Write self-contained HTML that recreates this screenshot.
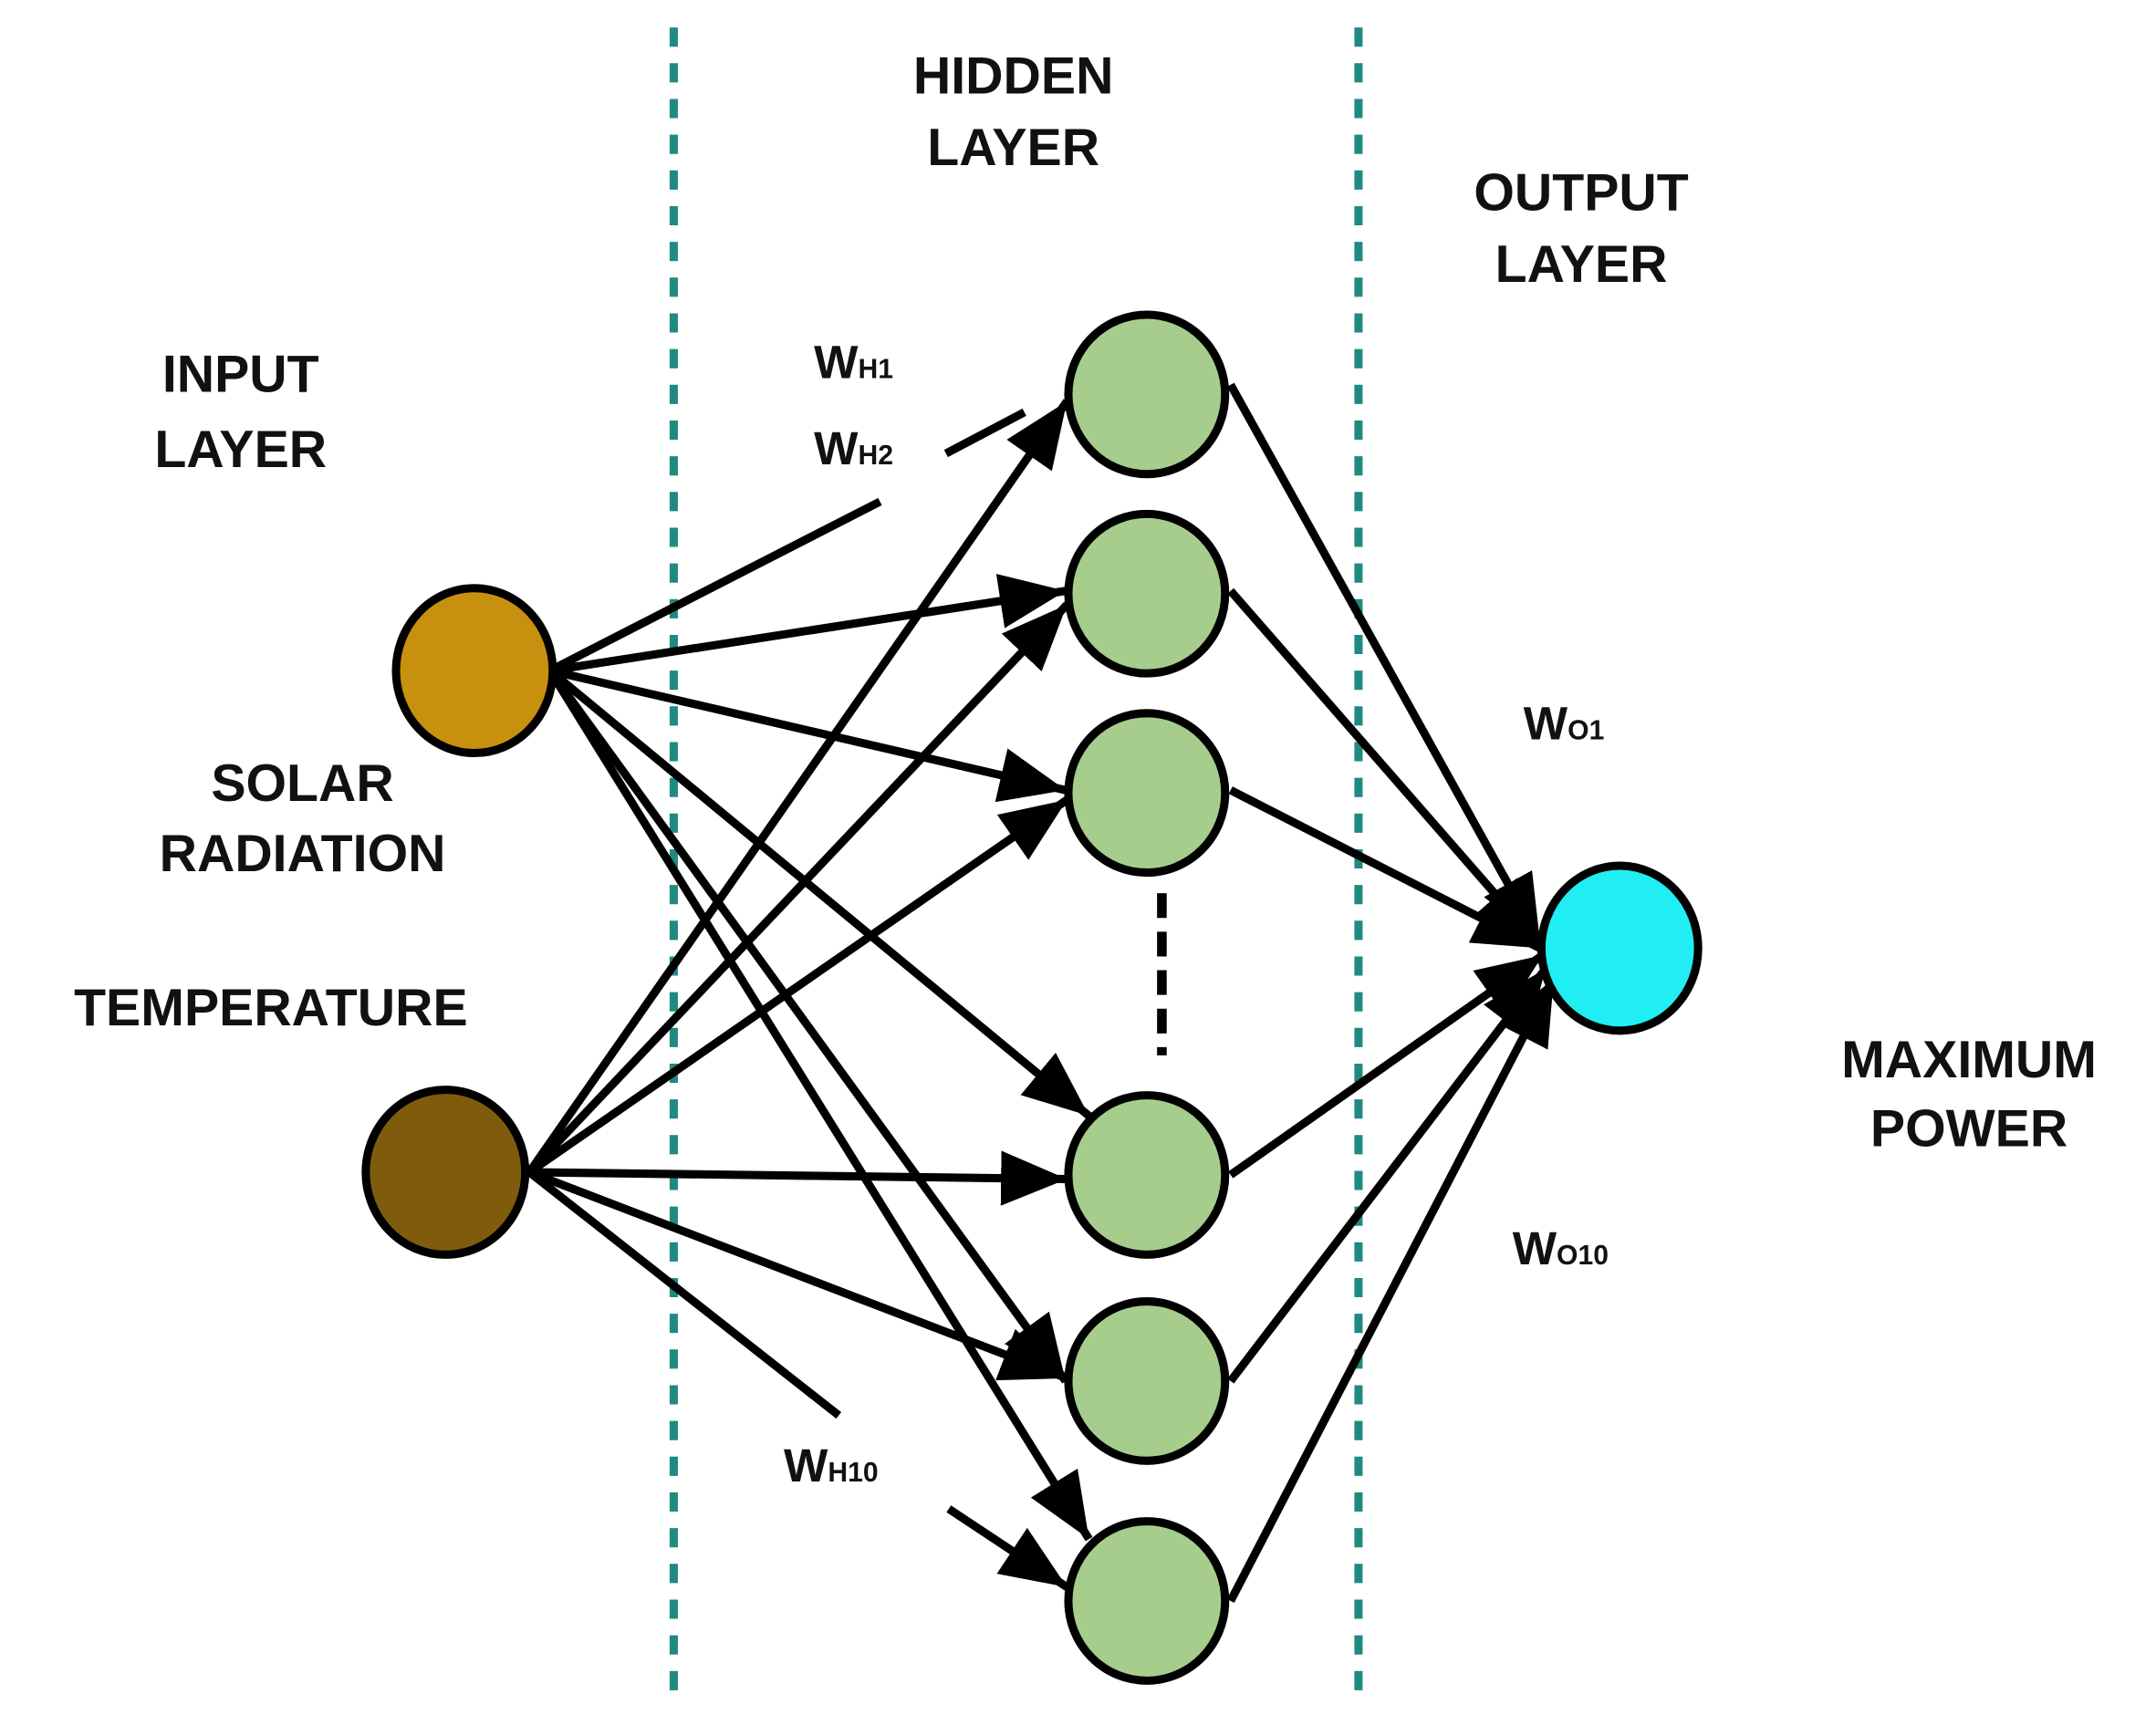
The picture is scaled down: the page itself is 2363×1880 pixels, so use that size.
<!DOCTYPE html>
<html><head><style>
html,body{margin:0;padding:0;background:#fff;}
svg{display:block;}
text{font-family:"Liberation Sans",sans-serif;font-weight:bold;fill:#111;}
</style></head><body>
<svg width="2363" height="1880" viewBox="0 0 1568 1248" preserveAspectRatio="none" xmlns="http://www.w3.org/2000/svg">
<defs>
<marker id="a" viewBox="0 0 10 10" refX="10" refY="5" markerWidth="9" markerHeight="9" markerUnits="userSpaceOnUse" orient="auto">
</marker>
<marker id="ar" viewBox="0 0 12 10" refX="12" refY="5" markerWidth="48" markerHeight="40" markerUnits="userSpaceOnUse" orient="auto"><path d="M0,0 L12,5 L0,10 z" fill="#000"/></marker>
</defs>
<g stroke="#1f8a80" stroke-width="6" stroke-dasharray="14,12">
<line x1="490" y1="20" x2="490" y2="1235"/>
<line x1="988" y1="20" x2="988" y2="1235"/>
</g>
<g stroke="#000" stroke-width="6" fill="none">
<!-- solar edges -->
<line x1="400" y1="488" x2="640" y2="365"/>
<line x1="400" y1="488" x2="775" y2="430" marker-end="url(#ar)"/>
<line x1="400" y1="488" x2="775" y2="575" marker-end="url(#ar)"/>
<line x1="400" y1="488" x2="792" y2="812" marker-end="url(#ar)"/>
<line x1="400" y1="488" x2="775" y2="1005" marker-end="url(#ar)"/>
<line x1="400" y1="488" x2="792" y2="1120" marker-end="url(#ar)"/>
<!-- temperature edges -->
<line x1="385" y1="853" x2="776" y2="292" marker-end="url(#ar)"/>
<line x1="385" y1="853" x2="776" y2="440" marker-end="url(#ar)"/>
<line x1="385" y1="853" x2="776" y2="582" marker-end="url(#ar)"/>
<line x1="385" y1="853" x2="776" y2="858" marker-end="url(#ar)"/>
<line x1="385" y1="853" x2="776" y2="1003" marker-end="url(#ar)"/>
<line x1="385" y1="853" x2="610" y2="1030"/>
<line x1="690" y1="1098" x2="776" y2="1155" marker-end="url(#ar)"/>
<line x1="688" y1="330" x2="745" y2="300"/>
<!-- hidden to output -->
<line x1="895" y1="280" x2="1120" y2="685" marker-end="url(#ar)"/>
<line x1="895" y1="430" x2="1120" y2="688" marker-end="url(#ar)"/>
<line x1="895" y1="575" x2="1120" y2="690" marker-end="url(#ar)"/>
<line x1="895" y1="855" x2="1122" y2="695" marker-end="url(#ar)"/>
<line x1="895" y1="1005" x2="1124" y2="705" marker-end="url(#ar)"/>
<line x1="895" y1="1165" x2="1130" y2="712" marker-end="url(#ar)"/>
<line x1="845" y1="650" x2="845" y2="768" stroke-width="7" stroke-dasharray="18,10"/>
</g>
<g stroke="#000" stroke-width="6">
<ellipse cx="345" cy="488" rx="57" ry="60" fill="#c8900f"/>
<ellipse cx="324" cy="853" rx="58" ry="60" fill="#7f5c0c"/>
<ellipse cx="834" cy="287" rx="57" ry="58" fill="#a6cd8c"/>
<ellipse cx="834" cy="432" rx="57" ry="58" fill="#a6cd8c"/>
<ellipse cx="834" cy="577" rx="57" ry="58" fill="#a6cd8c"/>
<ellipse cx="834" cy="855" rx="57" ry="58" fill="#a6cd8c"/>
<ellipse cx="834" cy="1005" rx="57" ry="58" fill="#a6cd8c"/>
<ellipse cx="834" cy="1165" rx="57" ry="58" fill="#a6cd8c"/>
<ellipse cx="1178" cy="690" rx="57" ry="60" fill="#20eef2"/>
</g>
<g font-size="38" text-anchor="middle">
<text x="737" y="68">HIDDEN</text>
<text x="737" y="120">LAYER</text>
<text x="1150" y="153">OUTPUT</text>
<text x="1150" y="205">LAYER</text>
<text x="175" y="285">INPUT</text>
<text x="175" y="340">LAYER</text>
<text x="220" y="583">SOLAR</text>
<text x="220" y="634">RADIATION</text>
<text x="197" y="746">TEMPERATURE</text>
<text x="1432" y="784">MAXIMUM</text>
<text x="1432" y="834">POWER</text>
</g>
<g font-size="34">
<text x="592" y="275">W<tspan font-size="20">H1</tspan></text>
<text x="592" y="338">W<tspan font-size="20">H2</tspan></text>
<text x="1108" y="538">W<tspan font-size="20">O1</tspan></text>
<text x="1100" y="920">W<tspan font-size="20">O10</tspan></text>
<text x="570" y="1078">W<tspan font-size="20">H10</tspan></text>
</g>
</svg>
</body></html>
